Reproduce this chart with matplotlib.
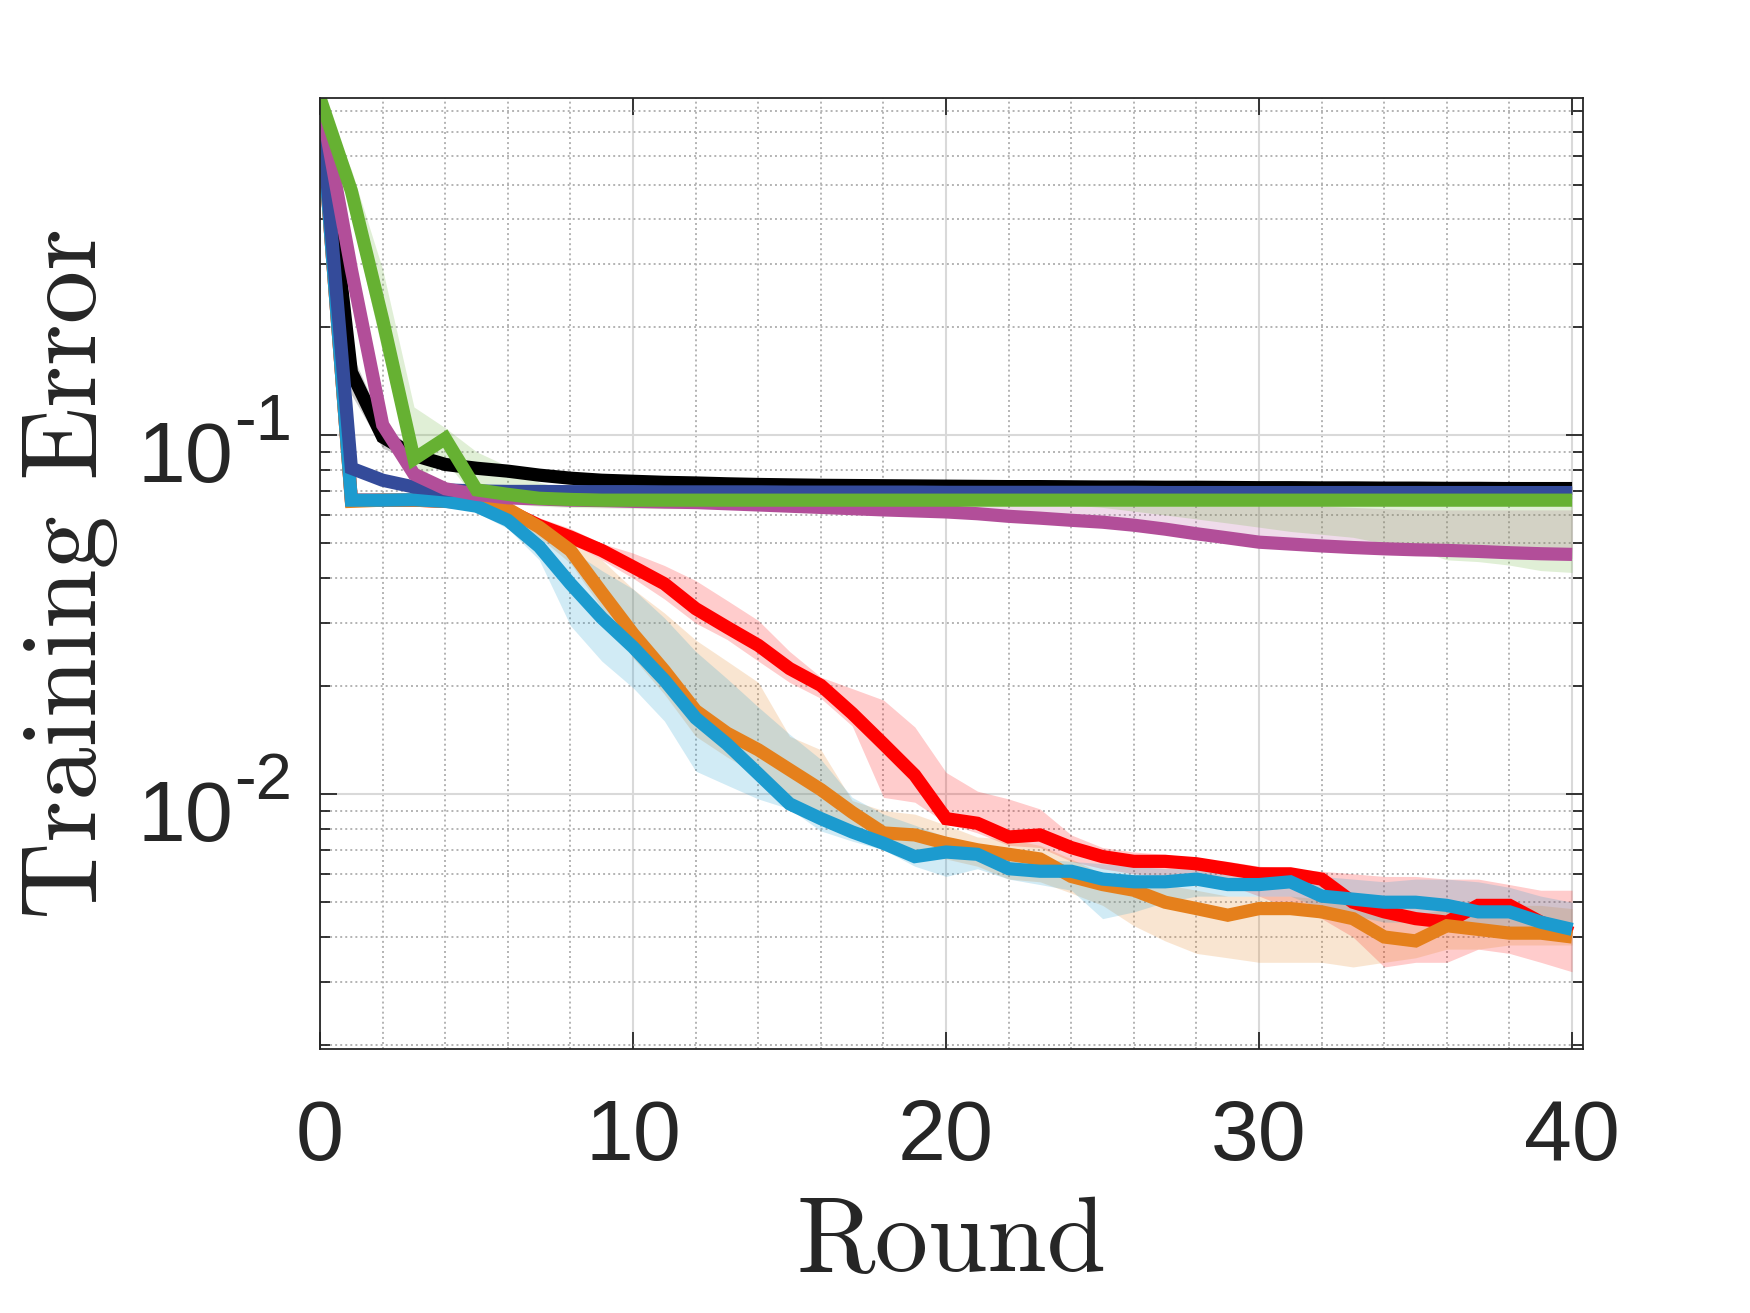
import numpy as np
import matplotlib
matplotlib.use("Agg")
import matplotlib.pyplot as plt
from matplotlib.ticker import FixedLocator, MultipleLocator, LogLocator, NullFormatter

# Training error per round: mean curve and shaded band (low / high)
rounds = np.arange(41)

black_mean = [0.87, 0.15, 0.099, 0.088, 0.083, 0.081, 0.0795, 0.0775, 0.076, 0.075, 0.0745,
              0.074, 0.0737, 0.0733, 0.073, 0.0728, 0.0726, 0.0725, 0.0724, 0.0723, 0.0722,
              0.0721, 0.072, 0.072, 0.0719, 0.0718, 0.0718, 0.0717, 0.0717, 0.0716, 0.0715,
              0.0715, 0.0714, 0.0714, 0.0713, 0.0713, 0.0712, 0.0712, 0.0711, 0.0711, 0.0711]
black_hi = [0.87, 0.17, 0.108, 0.091, 0.085, 0.0825, 0.0805, 0.0785, 0.077, 0.076, 0.0755,
            0.075, 0.0747, 0.0743, 0.074, 0.0738, 0.0736, 0.0735, 0.0734, 0.0733, 0.0732,
            0.0731, 0.073, 0.073, 0.0729, 0.0728, 0.0728, 0.0727, 0.0727, 0.0726, 0.0725,
            0.0725, 0.0724, 0.0724, 0.0723, 0.0723, 0.0722, 0.0722, 0.0721, 0.0721, 0.0721]
black_lo = [0.87, 0.13, 0.092, 0.085, 0.081, 0.0795, 0.0785, 0.0765, 0.075, 0.074, 0.0735,
            0.073, 0.0727, 0.0723, 0.072, 0.0718, 0.0716, 0.0715, 0.0714, 0.0713, 0.0712,
            0.0711, 0.071, 0.071, 0.0709, 0.0708, 0.0708, 0.0707, 0.0707, 0.0706, 0.0705,
            0.0705, 0.0704, 0.0704, 0.0703, 0.0703, 0.0702, 0.0702, 0.0701, 0.0701, 0.0701]

navy_mean = [0.87, 0.081, 0.075, 0.0718, 0.0705, 0.07, 0.0698, 0.0698, 0.0697, 0.0697, 0.0697,
             0.0696, 0.0696, 0.0696, 0.0696, 0.0695, 0.0695, 0.0695, 0.0695, 0.0695, 0.0694,
             0.0694, 0.0694, 0.0694, 0.0694, 0.0694, 0.0694, 0.0693, 0.0693, 0.0693, 0.0693,
             0.0693, 0.0693, 0.0693, 0.0693, 0.0693, 0.0693, 0.0693, 0.0693, 0.0693, 0.0693]
navy_hi = [0.87, 0.083, 0.077, 0.073, 0.0715, 0.071, 0.0708, 0.0708, 0.0707, 0.0707, 0.0707,
           0.0706, 0.0706, 0.0706, 0.0706, 0.0705, 0.0705, 0.0705, 0.0705, 0.0705, 0.0704,
           0.0704, 0.0704, 0.0704, 0.0704, 0.0704, 0.0704, 0.0703, 0.0703, 0.0703, 0.0703,
           0.0703, 0.0703, 0.0703, 0.0703, 0.0703, 0.0703, 0.0703, 0.0703, 0.0703, 0.0703]
navy_lo = [0.87, 0.079, 0.073, 0.0706, 0.0695, 0.069, 0.0688, 0.0688, 0.0687, 0.0687, 0.0687,
           0.0686, 0.0686, 0.0686, 0.0686, 0.0685, 0.0685, 0.0685, 0.0685, 0.0685, 0.0684,
           0.0684, 0.0684, 0.0684, 0.0684, 0.0684, 0.0684, 0.0683, 0.0683, 0.0683, 0.0683,
           0.0683, 0.0683, 0.0683, 0.0683, 0.0683, 0.0683, 0.0683, 0.0683, 0.0683, 0.0683]

cyan_mean = [0.87, 0.066, 0.066, 0.0662, 0.0655, 0.0635, 0.058, 0.049, 0.0386, 0.031, 0.0257,
             0.0208, 0.0163, 0.0138, 0.0114, 0.0094, 0.00855, 0.00785, 0.0073, 0.0067, 0.0069,
             0.0068, 0.0062, 0.0061, 0.0061, 0.0058, 0.0057, 0.0057, 0.0058, 0.0056, 0.0056,
             0.0057, 0.0052, 0.0051, 0.005, 0.005, 0.0049, 0.0047, 0.0047, 0.0044, 0.0042]
cyan_hi = [0.87, 0.068, 0.068, 0.068, 0.067, 0.066, 0.061, 0.054, 0.048, 0.042, 0.0373,
           0.031, 0.025, 0.021, 0.0175, 0.0147, 0.0125, 0.0098, 0.0088, 0.0082, 0.0076,
           0.0073, 0.0069, 0.0066, 0.0065, 0.0064, 0.0063, 0.0062, 0.0062, 0.0061, 0.006,
           0.006, 0.0059, 0.0058, 0.0057, 0.0058, 0.0058, 0.0057, 0.0055, 0.0052, 0.005]
cyan_lo = [0.87, 0.064, 0.064, 0.064, 0.064, 0.061, 0.055, 0.045, 0.0295, 0.0235, 0.0198,
           0.016, 0.0116, 0.0106, 0.0097, 0.0091, 0.0079, 0.0074, 0.007, 0.0063, 0.0059,
           0.0062, 0.0058, 0.0056, 0.0054, 0.0045, 0.0047, 0.005, 0.0052, 0.0052, 0.0052,
           0.0052, 0.0048, 0.0046, 0.0044, 0.0044, 0.0043, 0.0043, 0.0042, 0.0041, 0.004]

orange_mean = [0.87, 0.0655, 0.066, 0.066, 0.0655, 0.065, 0.0624, 0.0555, 0.0478, 0.0365, 0.028,
               0.0221, 0.0171, 0.0148, 0.0133, 0.0117, 0.0103, 0.0089, 0.0078, 0.0077, 0.0073,
               0.007, 0.0068, 0.0066, 0.0059, 0.0056, 0.0054, 0.005, 0.0048, 0.0046, 0.0048,
               0.0048, 0.0047, 0.0045, 0.004, 0.0039, 0.0043, 0.0042, 0.0041, 0.0041, 0.004]
orange_hi = [0.87, 0.068, 0.068, 0.068, 0.067, 0.0665, 0.064, 0.058, 0.05, 0.045, 0.0373,
             0.032, 0.0269, 0.0235, 0.0205, 0.0145, 0.0133, 0.0096, 0.009, 0.0088, 0.0082,
             0.0076, 0.0075, 0.0072, 0.0066, 0.006, 0.0058, 0.0056, 0.0054, 0.0052, 0.0052,
             0.0052, 0.0051, 0.005, 0.0048, 0.0046, 0.0048, 0.0049, 0.0049, 0.0049, 0.0048]
orange_lo = [0.87, 0.064, 0.064, 0.064, 0.064, 0.063, 0.06, 0.052, 0.044, 0.033, 0.024,
             0.019, 0.0145, 0.0127, 0.0113, 0.0098, 0.0089, 0.0079, 0.0071, 0.0068, 0.0066,
             0.0063, 0.0058, 0.0057, 0.0053, 0.0049, 0.0043, 0.0039, 0.0036, 0.0035, 0.0034,
             0.0034, 0.0034, 0.0033, 0.0034, 0.0035, 0.0037, 0.0037, 0.0038, 0.0038, 0.0038]

red_mean = [0.87, 0.066, 0.066, 0.066, 0.0655, 0.065, 0.0618, 0.0561, 0.0521, 0.0478, 0.043,
            0.0386, 0.0329, 0.0292, 0.026, 0.0224, 0.0201, 0.0168, 0.0138, 0.0113, 0.00855,
            0.0083, 0.0076, 0.0077, 0.0071, 0.0067, 0.0065, 0.0065, 0.0064, 0.0062, 0.006,
            0.006, 0.0058, 0.005, 0.0047, 0.0045, 0.0044, 0.0049, 0.0049, 0.0044, 0.0041]
red_hi = [0.87, 0.068, 0.068, 0.068, 0.067, 0.0665, 0.064, 0.059, 0.055, 0.05, 0.047,
          0.0434, 0.0394, 0.0347, 0.0305, 0.025, 0.0212, 0.0197, 0.0183, 0.0154, 0.0115,
          0.0102, 0.0097, 0.0091, 0.0077, 0.0071, 0.0069, 0.0068, 0.0066, 0.0065, 0.0063,
          0.0062, 0.0061, 0.006, 0.0059, 0.0059, 0.0058, 0.0058, 0.0056, 0.0054, 0.0054]
red_lo = [0.87, 0.064, 0.064, 0.064, 0.064, 0.063, 0.0595, 0.054, 0.05, 0.045, 0.04,
          0.035, 0.03, 0.027, 0.0235, 0.0205, 0.0185, 0.0155, 0.0098, 0.0095, 0.0083,
          0.0078, 0.0072, 0.0071, 0.0065, 0.0062, 0.006, 0.0059, 0.0058, 0.0056, 0.0052,
          0.0048, 0.0045, 0.004, 0.0033, 0.0034, 0.0034, 0.0037, 0.0036, 0.0034, 0.0032]

magenta_mean = [0.87, 0.29, 0.107, 0.078, 0.071, 0.0685, 0.067, 0.0665, 0.066, 0.0658, 0.0655,
                0.0652, 0.065, 0.0645, 0.064, 0.0635, 0.063, 0.0625, 0.062, 0.0616, 0.0612,
                0.0605, 0.0595, 0.0588, 0.058, 0.0573, 0.0562, 0.0548, 0.0532, 0.0518, 0.0504,
                0.0498, 0.0492, 0.0487, 0.0483, 0.048, 0.0478, 0.0475, 0.0471, 0.0468, 0.0466]
magenta_hi = [0.87, 0.32, 0.116, 0.082, 0.073, 0.0705, 0.069, 0.068, 0.067, 0.067, 0.0665,
              0.0662, 0.066, 0.0655, 0.065, 0.0648, 0.0645, 0.0642, 0.064, 0.0638, 0.0636,
              0.0635, 0.0635, 0.0635, 0.0635, 0.0635, 0.0635, 0.0635, 0.0635, 0.0635, 0.0635,
              0.0635, 0.0635, 0.063, 0.0625, 0.062, 0.062, 0.062, 0.062, 0.062, 0.062]
magenta_lo = [0.87, 0.27, 0.1, 0.075, 0.069, 0.0668, 0.0655, 0.065, 0.0645, 0.0643, 0.064,
              0.0637, 0.0635, 0.063, 0.0625, 0.062, 0.0615, 0.061, 0.0605, 0.06, 0.0596,
              0.059, 0.058, 0.0572, 0.0565, 0.0557, 0.0546, 0.0533, 0.0518, 0.0505, 0.0492,
              0.0486, 0.048, 0.0475, 0.0471, 0.0468, 0.0466, 0.0463, 0.0459, 0.0456, 0.0454]

green_mean = [0.87, 0.48, 0.21, 0.086, 0.098, 0.0705, 0.0685, 0.0668, 0.0663, 0.066, 0.066,
              0.066, 0.066, 0.066, 0.066, 0.066, 0.066, 0.066, 0.066, 0.066, 0.066,
              0.066, 0.066, 0.066, 0.066, 0.066, 0.066, 0.066, 0.066, 0.066, 0.066,
              0.066, 0.066, 0.066, 0.066, 0.066, 0.066, 0.066, 0.066, 0.066, 0.066]
green_hi = [0.87, 0.55, 0.29, 0.12, 0.105, 0.09, 0.082, 0.074, 0.0705, 0.069, 0.0685,
            0.0683, 0.0682, 0.068, 0.068, 0.068, 0.068, 0.068, 0.068, 0.068, 0.068,
            0.068, 0.068, 0.068, 0.068, 0.068, 0.068, 0.068, 0.068, 0.068, 0.068,
            0.068, 0.068, 0.068, 0.068, 0.068, 0.068, 0.068, 0.068, 0.068, 0.068]
green_lo = [0.87, 0.41, 0.17, 0.075, 0.085, 0.066, 0.0645, 0.0635, 0.063, 0.0628, 0.0626,
            0.0625, 0.0625, 0.0645, 0.0645, 0.0645, 0.0645, 0.0645, 0.0645, 0.0645, 0.0645,
            0.0645, 0.0645, 0.0645, 0.064, 0.063, 0.0615, 0.06, 0.0585, 0.057, 0.0555,
            0.054, 0.053, 0.052, 0.05, 0.048, 0.045, 0.0445, 0.0435, 0.042, 0.0415]

# drawing order matters: later bands tint earlier lines
series = [
    (red_mean, red_lo, red_hi, "#FF0000"),
    (orange_mean, orange_lo, orange_hi, "#E5801C"),
    (cyan_mean, cyan_lo, cyan_hi, "#1C9BCF"),
    (black_mean, black_lo, black_hi, "#000000"),
    (navy_mean, navy_lo, navy_hi, "#344B9A"),
    (magenta_mean, magenta_lo, magenta_hi, "#B24E99"),
    (green_mean, green_lo, green_hi, "#66B132"),
]

x_ticks = [0, 10, 20, 30, 40]
x_ticklabels = ["0", "10", "20", "30", "40"]
y_ticks = [0.01, 0.1]
y_exponents = ["-2", "-1"]

plt.rcParams["font.family"] = ["Liberation Sans", "DejaVu Sans"]

fig = plt.figure(figsize=(17.5, 13.13), dpi=100)
ax = fig.add_axes([0.1829, 0.2011, 0.7217, 0.7243])

for mean, lo, hi, col in series:
    ax.fill_between(rounds, lo, hi, color=col, alpha=0.2, linewidth=0)
    ax.plot(rounds, mean, color=col, linewidth=9.5, solid_joinstyle="miter",
            solid_capstyle="butt")

ax.set_yscale("log")
ax.set_xlim(0, 40.35)
ax.set_ylim(0.00195, 0.872)

ax.xaxis.set_major_locator(FixedLocator(x_ticks))
ax.xaxis.set_minor_locator(MultipleLocator(2))
ax.set_xticklabels(x_ticklabels)
ax.yaxis.set_major_locator(FixedLocator(y_ticks))
ax.yaxis.set_minor_locator(LogLocator(base=10, subs=np.arange(2, 10)))
ax.yaxis.set_minor_formatter(NullFormatter())

ax.set_axisbelow(True)
ax.grid(True, which="major", color="#d9d9d9", linewidth=1.5, linestyle="-")
ax.grid(True, which="minor", color="#b3b3b3", linewidth=1.4, linestyle=(0, (1, 1.6)))

ax.tick_params(which="both", direction="in", top=True, right=True,
               color="#262626", labelcolor="#262626", width=1.3, labelsize=62)
ax.tick_params(which="major", length=12)
ax.tick_params(which="minor", length=7)
ax.tick_params(axis="x", which="minor", length=0)
ax.tick_params(axis="x", which="major", pad=35.5)
ax.tick_params(axis="y", labelleft=False)

# MATLAB-style 10^n labels: base and raised exponent as separate texts
for val, ex in zip(y_ticks, y_exponents):
    ax.annotate("10", xy=(0, val), xycoords=("axes fraction", "data"),
                xytext=(-62.5, -33.8), textcoords="offset points",
                ha="right", va="baseline", fontsize=62, color="#262626")
    ax.annotate(ex, xy=(0, val), xycoords=("axes fraction", "data"),
                xytext=(-62.0, -3.6), textcoords="offset points",
                ha="left", va="baseline", fontsize=47, color="#262626")

for sp in ax.spines.values():
    sp.set_color("#262626")
    sp.set_linewidth(1.3)

ax.set_xlabel("Round", fontfamily="cmr10", fontsize=77, color="#262626", labelpad=13)
ax.set_ylabel("Training Error", fontfamily="cmr10", fontsize=77, color="#262626")
ax.yaxis.set_label_coords(-0.16, 0.5)

fig.savefig("out.png", dpi=100)
